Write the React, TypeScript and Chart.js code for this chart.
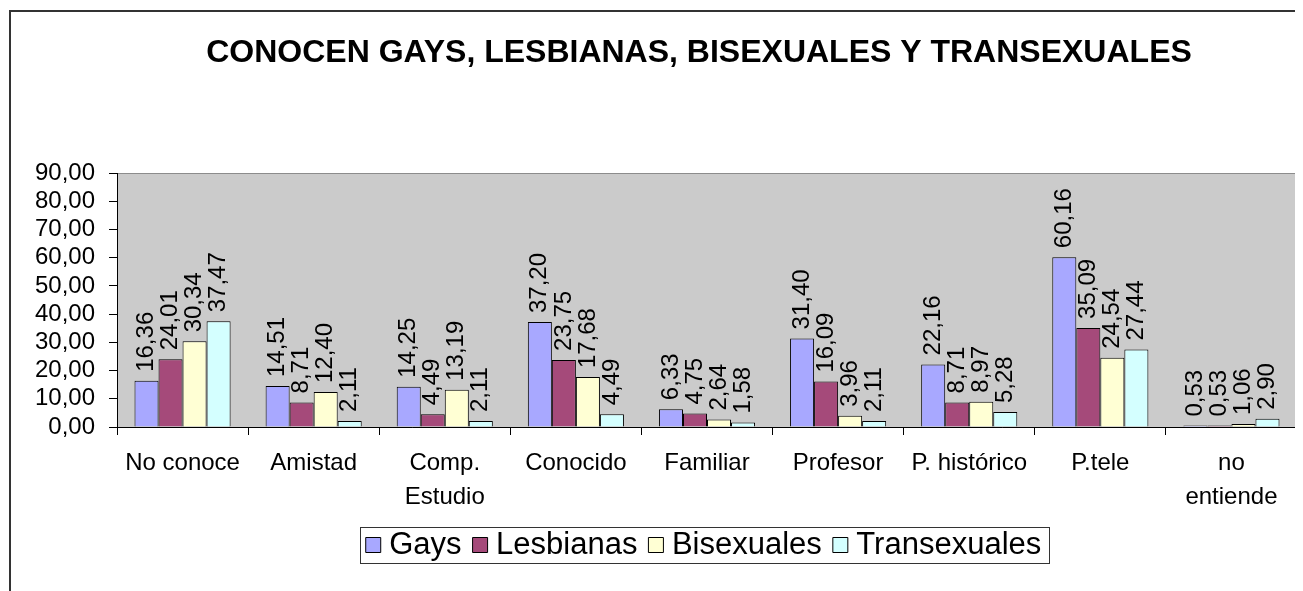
import React, { useEffect, useRef } from 'react';
import { Chart, registerables } from 'chart.js';

Chart.register(...registerables);

const CATEGORIES: (string | string[])[] = [
  'No conoce',
  'Amistad',
  ['Comp.', 'Estudio'],
  'Conocido',
  'Familiar',
  'Profesor',
  'P. histórico',
  'P.tele',
  ['no', 'entiende'],
];
const GAYS = [16.36, 14.51, 14.25, 37.2, 6.33, 31.4, 22.16, 60.16, 0.53];
const LESBIANAS = [24.01, 8.71, 4.49, 23.75, 4.75, 16.09, 8.71, 35.09, 0.53];
const BISEXUALES = [30.34, 12.4, 13.19, 17.68, 2.64, 3.96, 8.97, 24.54, 1.06];
const TRANSEXUALES = [37.47, 2.11, 2.11, 4.49, 1.58, 2.11, 5.28, 27.44, 2.9];
const SERIES_NAMES = ['Gays', 'Lesbianas', 'Bisexuales', 'Transexuales'];
const Y_MIN = 0;
const Y_MAX = 90;
const Y_STEP = 10;
const TITLE = 'CONOCEN GAYS, LESBIANAS, BISEXUALES Y TRANSEXUALES';

const COLORS = ['#A8A8FF', '#A54A7A', '#FFFFD4', '#D4FFFF'];
const FONT = "'Liberation Sans', Arial, sans-serif";

const fmt = (v: number) => Number(v).toFixed(2).replace('.', ',');

const W = 1295;
const H = 583;

const framePlugin = {
  id: 'frame',
  afterLayout(chart: any) {
    const t = chart.titleBlock;
    if (t) {
      t.left -= 8;
      t.right -= 8;
    }
  },
  beforeDraw(chart: any) {
    const { ctx, chartArea } = chart;
    ctx.save();
    ctx.fillStyle = '#fff';
    ctx.fillRect(0, 0, chart.width, chart.height);
    // outer frame
    ctx.strokeStyle = '#333';
    ctx.lineWidth = 2;
    ctx.beginPath();
    ctx.moveTo(2, chart.height + 5);
    ctx.lineTo(2, 3);
    ctx.lineTo(chart.width + 5, 3);
    ctx.stroke();
    // plot area
    ctx.fillStyle = '#CBCBCB';
    ctx.fillRect(chartArea.left, chartArea.top, chartArea.right - chartArea.left, chartArea.bottom - chartArea.top);
    ctx.strokeStyle = '#8C8C8C';
    ctx.lineWidth = 1;
    ctx.strokeRect(
      Math.round(chartArea.left) + 0.5,
      Math.round(chartArea.top) + 0.5,
      Math.round(chartArea.right - chartArea.left),
      Math.round(chartArea.bottom - chartArea.top)
    );
    ctx.restore();
  },
  afterDatasetsDraw(chart: any) {
    const { ctx } = chart;
    ctx.save();
    ctx.fillStyle = '#000';
    ctx.font = `24px ${FONT}`;
    ctx.textAlign = 'left';
    ctx.textBaseline = 'middle';
    chart.data.datasets.forEach((ds: any, di: number) => {
      const meta = chart.getDatasetMeta(di);
      meta.data.forEach((el: any, i: number) => {
        ctx.save();
        ctx.translate(el.x, el.y - 9);
        ctx.rotate(-Math.PI / 2);
        ctx.fillText(fmt(ds.data[i]), 0, 0);
        ctx.restore();
      });
    });
    ctx.restore();
  },
  afterDraw(chart: any) {
    const lg = chart.legend;
    if (!lg || !lg.legendHitBoxes || !lg.legendHitBoxes.length) return;
    const hb = lg.legendHitBoxes;
    let l = Infinity, r = -Infinity, t = Infinity;
    hb.forEach((h: any) => {
      l = Math.min(l, h.left);
      r = Math.max(r, h.left + h.width);
      t = Math.min(t, h.top);
    });
    const { ctx } = chart;
    ctx.save();
    ctx.strokeStyle = '#333';
    ctx.lineWidth = 1;
    ctx.strokeRect(Math.round(l - 13) + 0.5, Math.round(t - 2.5) + 0.5, Math.round(r - l + 20), 36);
    ctx.restore();
  },
};

export default function App() {
  const ref = useRef<HTMLCanvasElement | null>(null);
  useEffect(() => {
    if (!ref.current) return;
    Chart.defaults.font.family = FONT;
    const data = [GAYS, LESBIANAS, BISEXUALES, TRANSEXUALES];
    const chart = new Chart(ref.current, {
      type: 'bar',
      data: {
        labels: CATEGORIES as any,
        datasets: data.map((d, i) => ({
          label: SERIES_NAMES[i],
          data: d,
          backgroundColor: COLORS[i],
          borderColor: '#000',
          borderWidth: 1,
          categoryPercentage: 0.733,
          barPercentage: 1,
        })),
      },
      options: {
        responsive: false,
        animation: false,
        events: [],
        layout: { padding: { left: 0, right: 6, top: 0, bottom: 20.5 } },
        plugins: {
          tooltip: { enabled: false },
          title: {
            display: true,
            text: TITLE,
            fullSize: false,
            color: '#000',
            font: { size: 32, weight: 'bold', family: FONT, lineHeight: 1.2 },
            padding: { top: 26, bottom: 100.6 },
          },
          legend: {
            display: true,
            position: 'bottom',
            fullSize: false,
            labels: {
              color: '#000',
              font: { size: 31, family: FONT },
              usePointStyle: true,
              pointStyle: 'rect',
              boxWidth: 1,
              boxHeight: 15,
              padding: 18,
            },
          },
        },
        scales: {
          x: {
            ticks: {
              color: '#000',
              font: { size: 24, family: FONT, lineHeight: 1.4 },
              padding: 12,
              maxRotation: 0,
              autoSkip: false,
            },
            grid: { offset: true, drawOnChartArea: false, drawTicks: true, tickLength: 8, color: '#000' },
            border: { display: true, color: '#000', width: 1 },
            afterFit: (s: any) => {
              s.height = 84.5;
            },
          },
          y: {
            min: Y_MIN,
            max: Y_MAX,
            ticks: {
              stepSize: Y_STEP,
              autoSkip: false,
              color: '#000',
              font: { size: 24, family: FONT },
              padding: 14,
              callback: (v: any) => fmt(Number(v)),
            },
            grid: { drawOnChartArea: false, drawTicks: true, tickLength: 8, color: '#000' },
            border: { display: true, color: '#000', width: 1 },
            afterFit: (s: any) => {
              s.width = 109;
            },
          },
        },
      },
      plugins: [framePlugin],
    });
    return () => chart.destroy();
  }, []);
  return (
    <div style={{ width: W, height: H }}>
      <canvas ref={ref} width={W} height={H} style={{ display: 'block' }} />
    </div>
  );
}
